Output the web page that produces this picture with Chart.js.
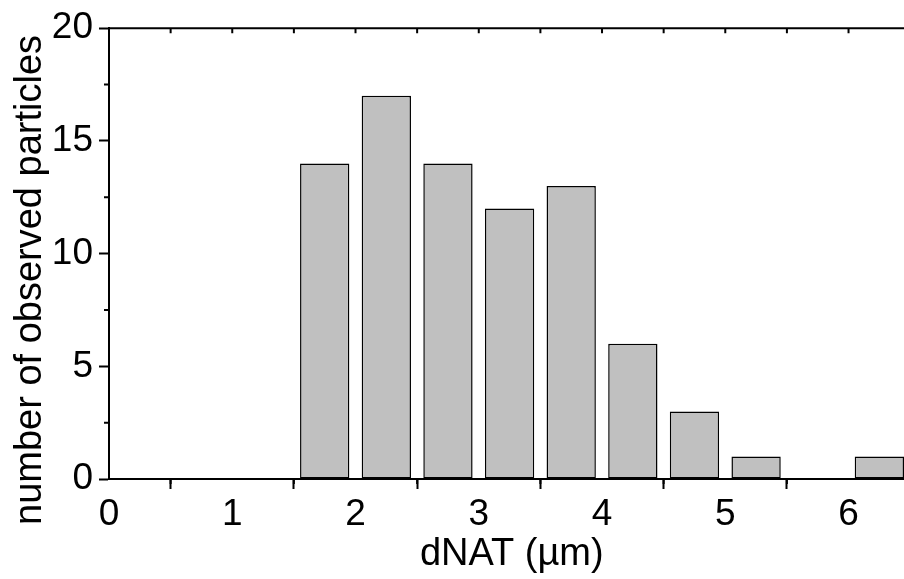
<!DOCTYPE html>
<html>
<head>
<meta charset="utf-8">
<script src="https://cdn.jsdelivr.net/npm/chart.js@4.4.1/dist/chart.umd.min.js"></script>
<style>
  html, body { margin: 0; padding: 0; background: #fff; }
  #wrap { width: 904px; height: 579px; }
</style>
</head>
<body>
<div id="wrap"><canvas id="histogram" width="904" height="579"></canvas></div>
<script>
// bin centres (µm) and number of particles per bin
const binCenters = [1.75, 2.25, 2.75, 3.25, 3.75, 4.25, 4.75, 5.25, 5.75, 6.25];
const counts = [14, 17, 14, 12, 13, 6, 3, 1, 0, 1];

const FONT = "'Liberation Sans', Arial, Helvetica, sans-serif";
const canvas = document.getElementById("histogram");

// minor ticks + top frame line, Origin style
const frameTicks = {
    id: "frameTicks",
    afterDraw(chart) {
        const ctx = chart.ctx;
        const xs = chart.scales.x;
        const ys = chart.scales.y;
        const area = chart.chartArea;
        ctx.save();
        ctx.strokeStyle = "#000";
        ctx.lineWidth = 2;

        // top line
        ctx.beginPath();
        ctx.moveTo(area.left - 1, area.top);
        ctx.lineTo(area.right, area.top);
        ctx.stroke();

        ctx.beginPath();
        // bottom minor ticks
        for (let v = 0.5; v < xs.max; v += 1) {
            const px = xs.getPixelForValue(v);
            ctx.moveTo(px, area.bottom);
            ctx.lineTo(px, area.bottom + 5);
        }
        // top ticks (inward)
        for (let v = 0.5; v < xs.max; v += 0.5) {
            const px = xs.getPixelForValue(v);
            ctx.moveTo(px, area.top);
            ctx.lineTo(px, area.top + 5);
        }
        // left minor ticks
        for (let v = 2.5; v < ys.max; v += 5) {
            const py = ys.getPixelForValue(v);
            ctx.moveTo(area.left, py);
            ctx.lineTo(area.left - 5, py);
        }
        ctx.stroke();
        ctx.restore();
    }
};

new Chart(canvas, {
    type: "bar",
    data: {
        datasets: [{
            label: "particles",
            data: binCenters.map((c, i) => ({ x: c, y: counts[i] })),
            backgroundColor: "#c0c0c0",
            borderColor: "#000",
            borderWidth: 1.5,
            borderSkipped: false,
            barPercentage: 0.8,
            categoryPercentage: 1.0
        }]
    },
    options: {
        responsive: false,
        animation: false,
        devicePixelRatio: 1,
        layout: { padding: { top: 27, right: 0, left: 0, bottom: 0 } },
        plugins: {
            legend: { display: false },
            tooltip: { enabled: false }
        },
        scales: {
            x: {
                type: "linear",
                min: 0,
                max: 6.45,
                offset: false,
                ticks: {
                    stepSize: 1,
                    includeBounds: false,
                    maxRotation: 0,
                    padding: 4,
                    color: "#000",
                    font: { family: FONT, size: 37 }
                },
                grid: {
                    drawOnChartArea: false,
                    tickLength: 10,
                    tickWidth: 2,
                    tickColor: "#000"
                },
                border: { display: true, color: "#000", width: 2 },
                title: {
                    display: true,
                    text: " dNAT (µm)",
                    color: "#000",
                    font: { family: FONT, size: 38 },
                    padding: { top: 0, bottom: 2 }
                },
                afterFit(scale) { scale.height = 100; }
            },
            y: {
                min: 0,
                max: 20,
                ticks: {
                    stepSize: 5,
                    padding: 6,
                    color: "#000",
                    font: { family: FONT, size: 37 }
                },
                grid: {
                    drawOnChartArea: false,
                    tickLength: 10,
                    tickWidth: 2,
                    tickColor: "#000"
                },
                border: { display: true, color: "#000", width: 2 },
                title: {
                    display: true,
                    // trailing spaces push the label down a little, as in the original
                    text: "number of observed particles     ",
                    color: "#000",
                    font: { family: FONT, size: 38 },
                    padding: { top: 8, bottom: 0 }
                },
                afterFit(scale) { scale.width = 109; }
            }
        }
    },
    plugins: [frameTicks]
});
</script>
</body>
</html>
